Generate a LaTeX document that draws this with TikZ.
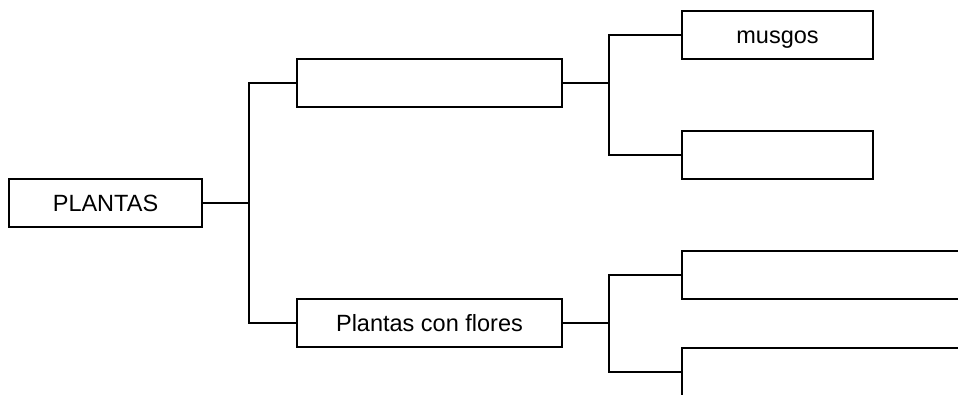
\documentclass[tikz,border=0pt]{standalone}
\usepackage{fontspec}
\setmainfont{Liberation Sans}
\begin{document}
\begin{tikzpicture}[x=1pt,y=-1pt,
  box/.style={draw=black,line width=1.6pt,fill=white,inner sep=0pt,minimum height=48pt,
    text height=17pt,text depth=0pt,font=\fontsize{23.5}{28}\selectfont},
  link/.style={draw=black,line width=1.6pt}]
\clip (0,0) rectangle (958,394);
\fill[white] (0,0) rectangle (958,394);
\node[box,minimum width=193pt] (A) at (105.5,203) {PLANTAS};
\node[box,minimum width=265pt] (B) at (429.5,83) {};
\node[box,minimum width=265pt] (C) at (429.5,323) {Plantas con flores};
\node[box,minimum width=191pt] (D) at (777.5,35) {musgos};
\node[box,minimum width=191pt] (E) at (777.5,155) {};
\node[box,minimum width=320pt] (F) at (842,275) {};
\node[box,minimum width=320pt] (G) at (842,372) {};
\coordinate (j1) at (249,203);
\coordinate (j2) at (609,83);
\coordinate (j3) at (609,323);
\draw[link] (A.east) -- (j1);
\draw[link] (B.west) -| (j1) |- (C.west);
\draw[link] (B.east) -- (j2);
\draw[link] (D.west) -| (j2) |- (E.west);
\draw[link] (C.east) -- (j3);
\draw[link] (F.west) -| (j3) |- (G.west);
\end{tikzpicture}
\end{document}
